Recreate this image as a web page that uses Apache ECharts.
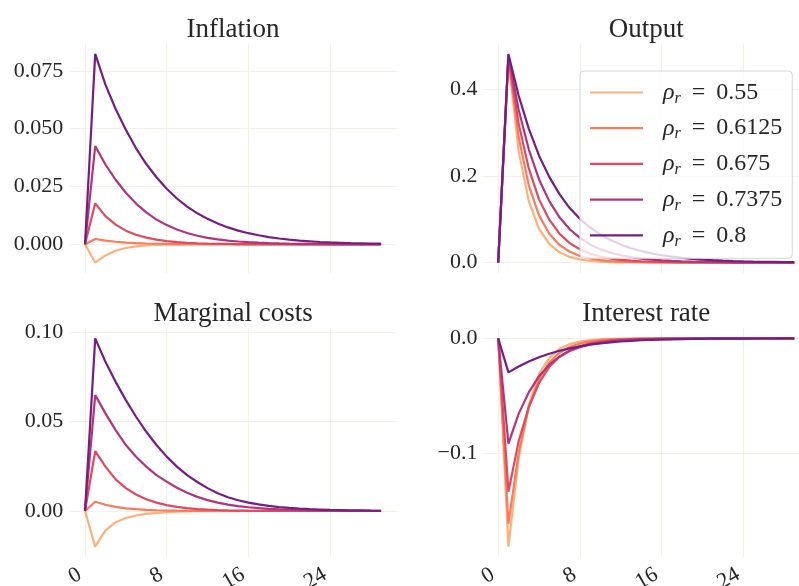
<!DOCTYPE html>
<html><head><meta charset="utf-8">
<script src="https://cdn.jsdelivr.net/npm/echarts@6/dist/echarts.min.js"></script>
<style>html,body{margin:0;padding:0;background:#fff}#c{width:799px;height:586px}</style>
</head><body><div id="c"></div><script>
// ---------------- data ----------------
const periods = [0,1,2,3,4,5,6,7,8,9,10,11,12,13,14,15,16,17,18,19,20,21,22,23,24,25,26,27,28,29];
const rhoLabels = ['0.55','0.6125','0.675','0.7375','0.8'];
const xTicks = [0,8,16,24];
const inflTicks = [0,0.025,0.05,0.075];
const outTicks = [0,0.2,0.4];
const mcTicks = [0,0.05,0.1];
const irTicks = [-0.1,0];

const infl_055 = [0,-0.0079,-0.0048,-0.0028,-0.0016,-0.0009,-0.0005,-0.0003,-0.00017,-0.0001,-0.00006,-0.00003,-0.00002,-0.00001,0,0,0,0,0,0,0,0,0,0,0,0,0,0,0,0];
const infl_06125 = [0,0.0023,0.0016,0.0011,0.00075,0.0005,0.00034,0.00023,0.00015,0.0001,0.00007,0.00005,0.00003,0.00002,0.00001,0,0,0,0,0,0,0,0,0,0,0,0,0,0,0];
const infl_0675 = [0,0.0177,0.0122,0.0085,0.0059,0.0041,0.0029,0.002,0.0014,0.00095,0.00066,0.00046,0.00032,0.00022,0.00015,0.0001,0.00007,0.00005,0.00003,0.00002,0.00001,0,0,0,0,0,0,0,0,0];
const infl_07375 = [0,0.0425,0.0345,0.0279,0.0223,0.0176,0.0138,0.0107,0.0083,0.0064,0.0049,0.0037,0.0028,0.0021,0.0016,0.0012,0.0009,0.00068,0.0005,0.00038,0.00028,0.00021,0.00016,0.00012,0.00009,0.00007,0.00005,0.00004,0.00003,0.00002];
const infl_08 = [0,0.0823,0.069,0.0585,0.0495,0.0415,0.0347,0.029,0.024,0.0198,0.0163,0.0134,0.011,0.009,0.0073,0.0059,0.0048,0.0039,0.0031,0.0025,0.002,0.0016,0.0013,0.001,0.0008,0.00065,0.0005,0.0004,0.0003,0.00025];

const out_055 = [0,0.47,0.258,0.142,0.078,0.043,0.0236,0.013,0.0071,0.0039,0.0021,0.0012,0.00065,0.00036,0.0002,0.0001,0.00006,0.00003,0.00002,0.00001,0,0,0,0,0,0,0,0,0,0];
const out_06125 = [0,0.473,0.29,0.178,0.109,0.0666,0.0408,0.025,0.0153,0.0094,0.0057,0.0035,0.0022,0.0013,0.0008,0.0005,0.0003,0.0002,0.0001,0.00006,0.00004,0.00002,0.00001,0,0,0,0,0,0,0];
const out_0675 = [0,0.476,0.321,0.217,0.146,0.099,0.0667,0.045,0.0304,0.0205,0.0138,0.0093,0.0063,0.0043,0.0029,0.0019,0.0013,0.0009,0.0006,0.0004,0.0003,0.0002,0.0001,0.00008,0.00005,0.00003,0.00002,0.00001,0,0];
const out_07375 = [0,0.479,0.353,0.261,0.192,0.142,0.1045,0.077,0.057,0.042,0.031,0.0229,0.0169,0.0124,0.0092,0.0068,0.005,0.0037,0.0027,0.002,0.0015,0.0011,0.0008,0.0006,0.00044,0.00032,0.00024,0.00018,0.00013,0.0001];
const out_08 = [0,0.482,0.386,0.309,0.247,0.198,0.158,0.126,0.101,0.081,0.065,0.052,0.0415,0.0332,0.0266,0.0213,0.017,0.0136,0.0109,0.0087,0.007,0.0056,0.0045,0.0036,0.0029,0.0023,0.0018,0.0015,0.0012,0.0009];

const mc_055 = [0,-0.0199,-0.0108,-0.0063,-0.0039,-0.0025,-0.0016,-0.001,-0.0006,-0.0004,-0.00025,-0.00015,-0.0001,-0.00006,-0.00004,-0.00002,-0.00001,0,0,0,0,0,0,0,0,0,0,0,0,0];
const mc_06125 = [0,0.0052,0.0035,0.0023,0.0015,0.001,0.00065,0.00042,0.00027,0.00017,0.00011,0.00007,0.00004,0.00002,0.00001,0,0,0,0,0,0,0,0,0,0,0,0,0,0,0];
const mc_0675 = [0,0.0335,0.0248,0.0177,0.0128,0.0092,0.0066,0.0047,0.0033,0.0023,0.0016,0.0011,0.0008,0.00055,0.00038,0.00026,0.00018,0.00012,0.00008,0.00005,0.00003,0.00002,0.00001,0,0,0,0,0,0,0];
const mc_07375 = [0,0.0648,0.0546,0.0452,0.0369,0.0303,0.0248,0.0201,0.0164,0.013,0.0102,0.0079,0.0061,0.0047,0.0036,0.0027,0.0021,0.0016,0.0012,0.0009,0.0007,0.0005,0.0004,0.0003,0.0002,0.00015,0.0001,0.00008,0.00006,0.00004];
const mc_08 = [0,0.0965,0.0834,0.0722,0.062,0.0527,0.0443,0.0369,0.0304,0.0248,0.0201,0.0162,0.0128,0.0099,0.0077,0.006,0.0047,0.0037,0.0029,0.0022,0.0017,0.0013,0.001,0.0008,0.0006,0.0005,0.0004,0.0003,0.0002,0.00015];

const ir_055 = [0,-0.182,-0.105,-0.058,-0.031,-0.017,-0.009,-0.005,-0.0027,-0.0015,-0.0008,-0.0004,-0.0002,-0.0001,0,0,0,0,0,0,0,0,0,0,0,0,0,0,0,0];
const ir_06125 = [0,-0.162,-0.1,-0.06,-0.036,-0.021,-0.0125,-0.0074,-0.0044,-0.0026,-0.0015,-0.0009,-0.0005,-0.0003,-0.0002,-0.0001,0,0,0,0,0,0,0,0,0,0,0,0,0,0];
const ir_0675 = [0,-0.134,-0.09,-0.06,-0.039,-0.025,-0.016,-0.0103,-0.0066,-0.0042,-0.0027,-0.0017,-0.0011,-0.0007,-0.00045,-0.0003,-0.0002,-0.0001,-0.00006,-0.00004,-0.00002,-0.00001,0,0,0,0,0,0,0,0];
const ir_07375 = [0,-0.092,-0.066,-0.047,-0.033,-0.023,-0.016,-0.011,-0.0076,-0.0052,-0.0036,-0.0025,-0.0017,-0.0012,-0.0008,-0.00055,-0.0004,-0.00026,-0.00018,-0.00012,-0.00008,-0.00005,-0.00003,-0.00002,-0.00001,0,0,0,0,0];
const ir_08 = [0,-0.0297,-0.0245,-0.0202,-0.0165,-0.0134,-0.0108,-0.0087,-0.0069,-0.0055,-0.0043,-0.0034,-0.0027,-0.0021,-0.0016,-0.0013,-0.001,-0.0008,-0.0006,-0.00045,-0.00035,-0.00027,-0.0002,-0.00015,-0.00011,-0.00008,-0.00006,-0.00004,-0.00003,-0.00002];

// ---------------- styling ----------------
const colors = ['#fdb07a','#f97b5d','#de4a5f','#b1357b','#731f81'];
const fontFamily = '"Liberation Serif","DejaVu Serif",serif';
const textColor = '#262626';
const gridColor = '#f3f0e5';

function pad5(arrs){
  let lo = Infinity, hi = -Infinity;
  arrs.forEach(a => a.forEach(v => { if (v < lo) lo = v; if (v > hi) hi = v; }));
  const m = (hi - lo) * 0.05;
  return [lo - m, hi + m];
}
function fmt(dec){
  return v => (v < -1e-12 ? '\u2212' : '') + Math.abs(v).toFixed(dec);
}

const panels = [
  {title:'Inflation', sets:[infl_055,infl_06125,infl_0675,infl_07375,infl_08], ticks:inflTicks, dec:3, showX:false,
   box:{left:70.2, top:43.5, width:325.7, height:229.5}, lm:7},
  {title:'Output', sets:[out_055,out_06125,out_0675,out_07375,out_08], ticks:outTicks, dec:1, showX:false,
   box:{left:483.4, top:43.5, width:325.7, height:229.5}, lm:6},
  {title:'Marginal costs', sets:[mc_055,mc_06125,mc_0675,mc_07375,mc_08], ticks:mcTicks, dec:2, showX:true,
   box:{left:70.2, top:328, width:325.7, height:229}, lm:7},
  {title:'Interest rate', sets:[ir_055,ir_06125,ir_0675,ir_07375,ir_08], ticks:irTicks, dec:1, showX:true,
   box:{left:483.4, top:328, width:325.7, height:229}, lm:6}
];

const xSpan = periods[periods.length-1] - periods[0];
const xMin = periods[0] - 0.05 * xSpan, xMax = periods[periods.length-1] + 0.05 * xSpan;

const grids = [], xAxes = [], yAxes = [], series = [], titles = [];
panels.forEach((p, i) => {
  grids.push(Object.assign({containLabel:false, outerBoundsMode:'none'}, p.box));
  titles.push({
    text: p.title, left: p.box.left + p.box.width/2, top: p.box.top - 27.5, textAlign: 'center', padding: 0,
    textStyle: {fontFamily, fontSize: 27, fontWeight: 'normal', color: textColor}
  });
  xAxes.push({
    type:'value', gridIndex:i, min:xMin, max:xMax,
    axisLine:{show:false}, axisTick:{show:false, customValues:xTicks},
    axisLabel:{show:p.showX, customValues:xTicks, rotate:30, margin:13, padding:[0,6,0,0],
      fontFamily, fontSize:22, color:textColor, formatter: v => String(v)},
    splitLine:{show:true, lineStyle:{color:gridColor, width:1.2}}
  });
  const [ymin, ymax] = pad5(p.sets);
  yAxes.push({
    type:'value', gridIndex:i, min:ymin, max:ymax,
    axisLine:{show:false}, axisTick:{show:false, customValues:p.ticks},
    axisLabel:{customValues:p.ticks, margin:p.lm, fontFamily, fontSize:22, color:textColor, formatter: fmt(p.dec)},
    splitLine:{show:true, lineStyle:{color:gridColor, width:1.2}}
  });
  p.sets.forEach((arr, k) => {
    series.push({
      type:'line', name: rhoLabels[k], xAxisIndex:i, yAxisIndex:i,
      data: periods.map((t, j) => [t, arr[j]]),
      symbol:'none', silent:true,
      lineStyle:{width:2.2, color:colors[k]}, itemStyle:{color:colors[k]}
    });
  });
});

const chart = echarts.init(document.getElementById('c'), null, {renderer:'canvas'});
chart.setOption({
  animation:false,
  backgroundColor:'#ffffff',
  title: titles,
  grid: grids,
  xAxis: xAxes,
  yAxis: yAxes,
  legend: {
    data: rhoLabels, orient:'vertical', left:580, top:71,
    padding:[7.5,10,9,10], itemGap:7.7, itemWidth:53, itemHeight:2.2, icon:'rect',
    backgroundColor:'rgba(255,255,255,0.8)', borderColor:'#d6d6d6', borderWidth:1, borderRadius:4,
    selectedMode:false,
    formatter: name => '{a|\u03C1}{b|r}{e|=}{c|' + name + '}',
    textStyle: {
      fontFamily, fontSize:24, color:textColor, lineHeight:28,
      rich: {
        a:{fontFamily, fontSize:24, fontStyle:'italic', color:textColor, lineHeight:28, padding:[0,0,0,15]},
        b:{fontFamily, fontSize:16, fontStyle:'italic', color:textColor, lineHeight:16, verticalAlign:'bottom'},
        e:{fontFamily, fontSize:24, color:textColor, lineHeight:28, padding:[0,11,0,11]},
        c:{fontFamily, fontSize:24, color:textColor, lineHeight:28}
      }
    }
  },
  series
});
</script></body></html>
